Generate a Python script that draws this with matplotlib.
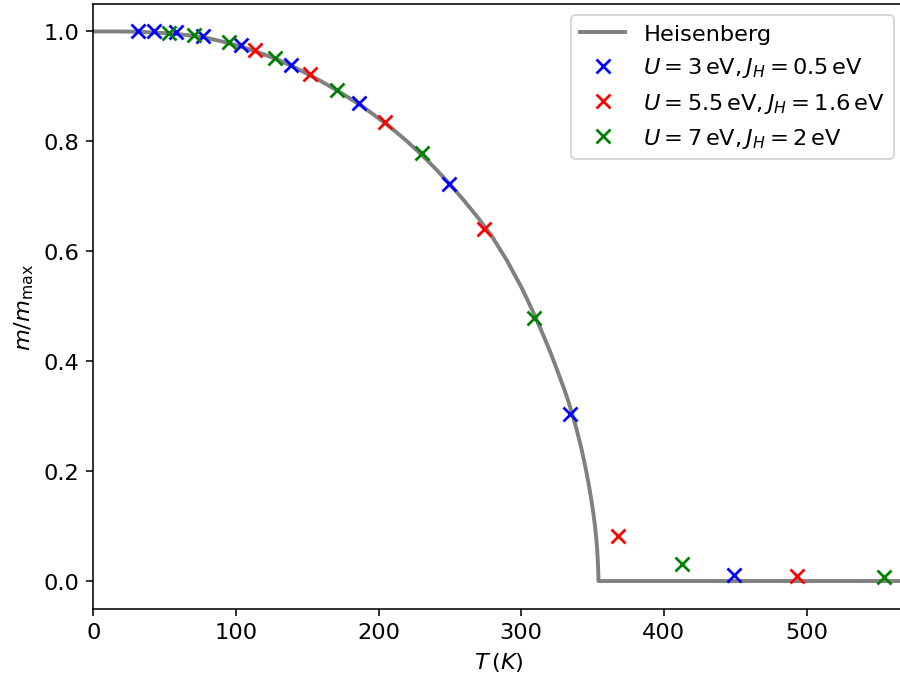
import matplotlib
matplotlib.use("Agg")
import matplotlib.pyplot as plt

# Heisenberg curve
heis_T = [0, 20, 30, 40, 50, 60, 70, 80, 90, 100, 110, 120, 130, 140, 150, 160, 170,
          180, 190, 200, 210, 220, 230, 240, 250, 260, 270, 280, 290, 300, 305, 310,
          315, 320, 325, 330, 333, 336, 339, 342, 345, 347, 349, 350.5, 351.5, 352.5,
          353.2, 353.7, 354.0, 354.1, 569]
heis_m = [1.0, 1.0, 0.9995, 0.9985, 0.997, 0.995, 0.992, 0.988, 0.982, 0.975, 0.967,
          0.958, 0.948, 0.936, 0.923, 0.909, 0.894, 0.878, 0.861, 0.842, 0.822, 0.800,
          0.776, 0.750, 0.722, 0.692, 0.660, 0.625, 0.583, 0.535, 0.508, 0.480, 0.450,
          0.419, 0.385, 0.350, 0.327, 0.302, 0.274, 0.243, 0.207, 0.180, 0.150, 0.124,
          0.104, 0.080, 0.058, 0.035, 0.015, 0.0, 0.0]

# U = 3 eV, J_H = 0.5 eV
blue_T = [31.6, 42.6, 58.0, 77.1, 103.4, 138.8, 186.1, 249.0, 334.3, 449.3]
blue_m = [1.0, 1.0, 0.999, 0.992, 0.975, 0.939, 0.869, 0.722, 0.304, 0.011]

# U = 5.5 eV, J_H = 1.6 eV
red_T = [113.2, 152.0, 204.3, 274.2, 367.6, 493.3]
red_m = [0.966, 0.922, 0.835, 0.641, 0.082, 0.010]

# U = 7 eV, J_H = 2 eV
green_T = [53.3, 70.8, 95.4, 127.6, 171.1, 230.3, 308.6, 412.8, 554.5]
green_m = [0.997, 0.993, 0.980, 0.951, 0.894, 0.779, 0.479, 0.031, 0.007]

labels = ["Heisenberg",
          r"$U = 3\,\mathrm{eV}, J_H = 0.5\,\mathrm{eV}$",
          r"$U = 5.5\,\mathrm{eV}, J_H = 1.6\,\mathrm{eV}$",
          r"$U = 7\,\mathrm{eV}, J_H = 2\,\mathrm{eV}$"]

plt.rcParams["font.size"] = 11.5

dpi = 140.625
fig = plt.figure(figsize=(900 / dpi, 681 / dpi), dpi=dpi)
ax = fig.add_axes([93.3 / 900, (681 - 609.5) / 681, (905 - 93.3) / 900, (609.5 - 5) / 681])

ax.plot(heis_T, heis_m, color="grey", lw=2, label=labels[0])
ax.plot(blue_T, blue_m, "x", color="blue", ms=7, mew=1.4, label=labels[1])
ax.plot(red_T, red_m, "x", color="red", ms=7, mew=1.4, label=labels[2])
ax.plot(green_T, green_m, "x", color="green", ms=7, mew=1.4, label=labels[3])

ax.set_xlim(0, 569)
ax.set_ylim(-0.05, 1.05)
ax.set_xlabel(r"$T\,(K)$")
ax.set_ylabel(r"$m/m_{\mathrm{max}}$")
ax.legend(loc="upper right")

fig.savefig("out.png", dpi=dpi)
